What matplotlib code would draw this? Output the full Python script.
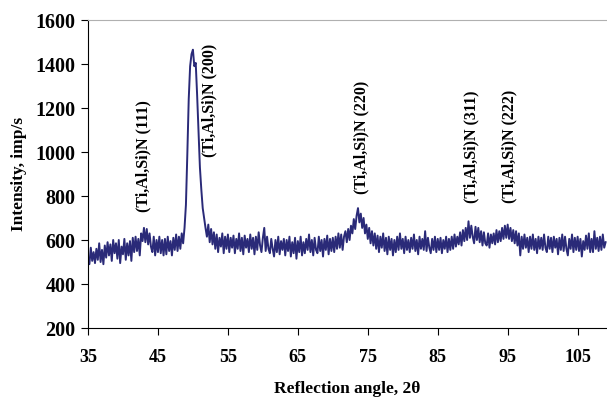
import numpy as np
import matplotlib
matplotlib.use("Agg")
import matplotlib.pyplot as plt

plt.rcParams["font.family"] = ["Liberation Serif", "DejaVu Serif"]
plt.rcParams["font.weight"] = "bold"

# scan from 35 to 109 deg, step 0.2 deg
START, STEP = 35.0, 0.2
intensity = [
    520, 490, 565, 505, 545,   # 35
    495, 560, 510, 585, 500,
    555, 490, 575, 520, 590,
    530, 580, 505, 600, 540,
    585, 515, 600, 495, 570,
    535, 605, 510, 585, 530,   # 40
    595, 505, 610, 545, 615,
    550, 605, 530, 630, 595,
    655, 590, 650, 580, 630,
    570, 545, 615, 530, 600,
    545, 615, 540, 600, 530,   # 45
    605, 535, 615, 550, 595,
    530, 610, 555, 625, 550,
    615, 560, 630, 585, 655,
    760, 990, 1240, 1390, 1445,
    1465, 1390, 1405, 1260, 1090,  # 50
    930, 830, 745, 700, 655,
    615, 670, 590, 650, 580,
    635, 560, 625, 545, 610,
    570, 630, 540, 615, 560,
    625, 545, 610, 565, 620,   # 55
    540, 605, 560, 630, 550,
    610, 535, 620, 565, 605,
    545, 625, 560, 610, 535,
    615, 555, 635, 575, 545,
    610, 655, 550, 615, 560,   # 60
    540, 605, 560, 525, 600,
    545, 615, 535, 595, 555,
    605, 530, 600, 550, 615,
    525, 590, 540, 610, 515,
    595, 545, 615, 530, 590,   # 65
    540, 605, 555, 625, 545,
    600, 530, 610, 555, 540,
    615, 550, 600, 525, 605,
    555, 620, 535, 605, 550,
    610, 545, 615, 560, 630,   # 70
    565, 625, 555, 615, 640,
    590, 650, 600, 665, 630,
    695, 650, 710, 745, 680,
    720, 655, 700, 630, 670,
    605, 655, 585, 640, 575,   # 75
    630, 560, 620, 545, 615,
    565, 630, 550, 610, 535,
    615, 555, 605, 530, 600,
    545, 615, 555, 630, 560,
    605, 540, 615, 555, 600,   # 80
    545, 610, 560, 625, 550,
    600, 535, 615, 560, 605,
    555, 640, 550, 610, 565,
    540, 605, 555, 615, 545,
    605, 555, 610, 540, 600,   # 85
    560, 615, 545, 605, 555,
    615, 560, 625, 570, 615,
    580, 635, 575, 645, 595,
    655, 600, 685, 610, 665,
    615, 585, 660, 600, 655,   # 90
    590, 640, 575, 635, 585,
    575, 630, 565, 625, 585,
    630, 580, 645, 590, 640,
    595, 655, 605, 665, 610,
    670, 605, 655, 595, 645,   # 95
    585, 640, 575, 630, 530,
    615, 560, 625, 565, 610,
    545, 615, 560, 625, 555,
    605, 540, 615, 560, 610,
    555, 625, 565, 545, 615,   # 100
    560, 610, 545, 615, 565,
    605, 535, 610, 555, 625,
    550, 615, 560, 530, 605,
    560, 625, 545, 610, 555,
    615, 550, 605, 525, 595,   # 105
    555, 620, 560, 630, 545,
    605, 545, 640, 560, 610,
    550, 615, 555, 625, 565,
    590,                       # 109
]
angle = START + STEP * np.arange(len(intensity))

peak_labels = ["(Ti,Al,Si)N (111)", "(Ti,Al,Si)N (200)", "(Ti,Al,Si)N (220)",
               "(Ti,Al,Si)N (311)", "(Ti,Al,Si)N (222)"]
peak_x = [42.9, 52.4, 74.1, 89.8, 95.3]
peak_y = [727, 977, 809, 768, 768]

fig = plt.figure(figsize=(6.07, 3.97), dpi=100)
ax = fig.add_axes([88 / 607, 69 / 397, 519 / 607, 308 / 397])

ax.plot(angle, intensity, color="#2a2a78", linewidth=1.4)

for txt, x, y in zip(peak_labels, peak_x, peak_y):
    ax.text(x, y, txt, rotation=90, ha="center", va="bottom",
            fontsize=11.5, fontweight="bold")

ax.set_xlim(35, 109.2)
ax.set_ylim(200, 1600)
ax.set_xticks(range(35, 106, 10))
ax.set_yticks(range(200, 1601, 200))
ax.tick_params(axis="x", labelsize=13, direction="out", length=5, pad=10)
ax.tick_params(axis="y", labelsize=14.5, direction="out", length=5, pad=4)
for lab in ax.get_xticklabels() + ax.get_yticklabels():
    lab.set_fontweight("bold")

ax.spines["right"].set_visible(False)
ax.spines["top"].set_color("#b0b0b0")
ax.spines["left"].set_color("black")
ax.spines["bottom"].set_color("black")

ax.set_xlabel("Reflection angle, 2θ", fontsize=12.5, fontweight="bold", labelpad=11)
ax.set_ylabel("Intensity, imp/s", fontsize=12.5, fontweight="bold", labelpad=6)

fig.savefig("out.png", dpi=100)
